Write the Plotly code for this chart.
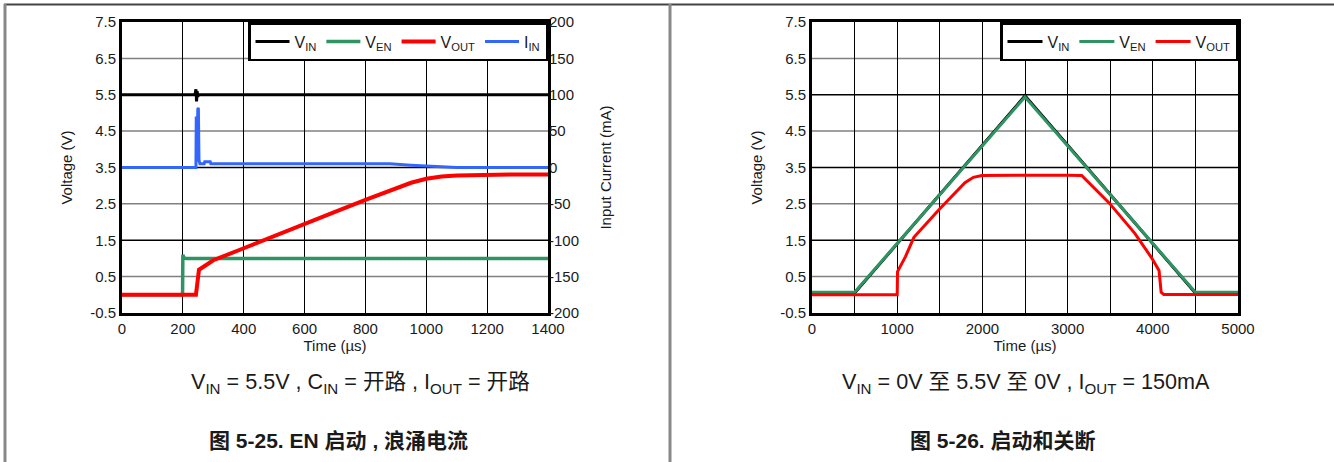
import plotly.graph_objects as go

W, H = 1334, 462

# ---------------- Left chart data (EN start-up, inrush current) ----------------
t_vin_l = [0, 240, 243, 245, 247, 249, 252, 1400]
v_vin_l = [5.5, 5.5, 5.65, 5.32, 5.6, 5.45, 5.5, 5.5]

t_ven_l = [0, 199, 200, 203, 210, 1400]
v_ven_l = [0.0, 0.0, 1.1, 1.02, 1.0, 1.0]

t_vout_l = [0, 243, 253, 300, 400, 500, 600, 700, 800, 900, 950, 1000, 1050, 1100, 1200, 1300, 1400]
v_vout_l = [0.0, 0.0, 0.69, 0.95, 1.28, 1.62, 1.95, 2.28, 2.61, 2.92, 3.08, 3.19, 3.25, 3.28, 3.30, 3.31, 3.31]

t_iin_l = [0, 243, 244, 245, 246, 248, 249, 251, 253, 256, 262, 270, 272, 290, 292, 880, 950, 1000, 1100, 1400]
i_iin_l = [0, 0, 68, 68, 10, 10, 80, 82, 10, 5, 5, 5, 8, 8, 5, 5, 3, 2, 0, 0]

# ---------------- Right chart data (start-up and shutdown) ----------------
t_vin_r = [0, 500, 2500, 4500, 5000]
v_vin_r = [0.05, 0.05, 5.47, 0.05, 0.05]

t_ven_r = [0, 500, 2500, 4500, 5000]
v_ven_r = [0.07, 0.07, 5.44, 0.07, 0.07]

t_vout_r = [0, 1000, 1004, 1097, 1196, 1495, 1795, 1894, 1994, 2500, 3000, 3165, 3490, 3789, 3988, 4073, 4098, 4128, 5000]
v_vout_r = [0.0, 0.0, 0.64, 1.05, 1.58, 2.35, 3.08, 3.23, 3.28, 3.29, 3.29, 3.28, 2.52, 1.69, 1.01, 0.67, 0.07, 0.01, 0.01]

# ---------------- Axis tick labels ----------------
v_ticks = [-0.5, 0.5, 1.5, 2.5, 3.5, 4.5, 5.5, 6.5, 7.5]
v_black_grid = [1.5, 3.5, 5.5]
v_gray_grid = [0.5, 2.5, 4.5, 6.5]
i_ticks = [-200, -150, -100, -50, 0, 50, 100, 150, 200]
x_ticks_l = [0, 200, 400, 600, 800, 1000, 1200, 1400]
x_ticks_r = [0, 500, 1000, 1500, 2000, 2500, 3000, 3500, 4000, 4500, 5000]
x_ticklabels_r = ["0", "", "1000", "", "2000", "", "3000", "", "4000", "", "5000"]

C_VIN = "#000000"
C_VEN = "#2e9462"
C_VOUT = "#ff0000"
C_IIN = "#3366ff"

FONT = "Liberation Sans, Arial, sans-serif"
CJK = "Liberation Sans, Noto Sans CJK SC, sans-serif"
TXT = "#1a1a1a"

fig = go.Figure()

# left traces
fig.add_trace(go.Scatter(x=t_vin_l, y=v_vin_l, name="V<sub>IN</sub>", mode="lines",
                         line=dict(color=C_VIN, width=3), xaxis="x", yaxis="y", legend="legend"))
fig.add_trace(go.Scatter(x=t_ven_l, y=v_ven_l, name="V<sub>EN</sub>", mode="lines",
                         line=dict(color=C_VEN, width=3.5), xaxis="x", yaxis="y", legend="legend"))
fig.add_trace(go.Scatter(x=t_vout_l, y=v_vout_l, name="V<sub>OUT</sub>", mode="lines",
                         line=dict(color=C_VOUT, width=4), xaxis="x", yaxis="y", legend="legend"))
fig.add_trace(go.Scatter(x=t_iin_l, y=i_iin_l, name="I<sub>IN</sub>", mode="lines",
                         line=dict(color=C_IIN, width=3), xaxis="x", yaxis="y2", legend="legend"))

# right traces
fig.add_trace(go.Scatter(x=t_vin_r, y=v_vin_r, name="V<sub>IN</sub>", mode="lines",
                         line=dict(color=C_VIN, width=3), xaxis="x2", yaxis="y3", legend="legend2"))
fig.add_trace(go.Scatter(x=t_ven_r, y=v_ven_r, name="V<sub>EN</sub>", mode="lines",
                         line=dict(color=C_VEN, width=3), xaxis="x2", yaxis="y3", legend="legend2"))
fig.add_trace(go.Scatter(x=t_vout_r, y=v_vout_r, name="V<sub>OUT</sub>", mode="lines",
                         line=dict(color=C_VOUT, width=3), xaxis="x2", yaxis="y3", legend="legend2"))

def px_x(p):
    return p / W

def px_y(p):
    return 1 - p / H

dom_y = [px_y(313), px_y(22)]
dom_xl = [px_x(122), px_x(548)]
dom_xr = [px_x(812), px_x(1238)]

tickfont = dict(family=FONT, size=15, color=TXT)
titlefont = dict(family=FONT, size=15, color=TXT)

def xax(domain, ticks, labels, rng, anchor):
    return dict(domain=domain, anchor=anchor, range=rng, tickmode="array", tickvals=ticks, ticktext=labels,
                showgrid=True, gridcolor="#000000", gridwidth=1.2, zeroline=False,
                showline=True, linecolor="#000000", linewidth=3, mirror=True,
                ticks="", tickfont=tickfont, automargin=False,
                title=dict(text="Time (µs)", font=titlefont, standoff=1))

def yax_v(domain, anchor):
    return dict(domain=domain, anchor=anchor, range=[-0.5, 7.5], tickmode="array",
                tickvals=v_ticks, ticktext=[f"{v:g}" for v in v_ticks],
                showgrid=False, zeroline=False,
                showline=True, linecolor="#000000", linewidth=3, mirror=True,
                ticks="", tickfont=tickfont, automargin=False,
                title=dict(text="Voltage (V)", font=titlefont, standoff=14))

legend_font = dict(family=FONT, size=16, color=TXT)

layout = dict(
    width=W, height=H, margin=dict(l=0, r=0, t=0, b=0, autoexpand=False),
    paper_bgcolor="white", plot_bgcolor="white", showlegend=True,
    xaxis=xax(dom_xl, x_ticks_l, [str(v) for v in x_ticks_l], [0, 1400], "y"),
    xaxis2=xax(dom_xr, x_ticks_r, x_ticklabels_r, [0, 5000], "y3"),
    yaxis=yax_v(dom_y, "x"),
    yaxis2=dict(overlaying="y", side="right", anchor="x", range=[-200, 200], tickmode="array",
                tickvals=i_ticks, ticktext=[str(v) for v in i_ticks], showgrid=False,
                zeroline=False, showline=False, ticks="", tickfont=tickfont, automargin=False,
                title=dict(text="Input Current (mA)", font=titlefont, standoff=22)),
    yaxis3=yax_v(dom_y, "x2"),
    legend=dict(x=px_x(548), xanchor="right", y=px_y(22), yanchor="top", orientation="h",
                bgcolor="white", bordercolor="#000000", borderwidth=2.5,
                font=legend_font, itemwidth=34),
    legend2=dict(x=px_x(1238), xanchor="right", y=px_y(22), yanchor="top", orientation="h",
                 bgcolor="white", bordercolor="#000000", borderwidth=2.5,
                 font=legend_font, itemwidth=35),
)
fig.update_layout(**layout)

# horizontal gridlines: gray at 0.5/2.5/4.5/6.5, black at 1.5/3.5/5.5
for yref, xref in (("y", "x domain"), ("y3", "x2 domain")):
    for gv in v_gray_grid:
        fig.add_shape(type="line", xref=xref, yref=yref, x0=0, x1=1, y0=gv, y1=gv,
                      layer="below", line=dict(color="#808080", width=1.5))
    for gv in v_black_grid:
        fig.add_shape(type="line", xref=xref, yref=yref, x0=0, x1=1, y0=gv, y1=gv,
                      layer="below", line=dict(color="#000000", width=1.5))

# captions
fig.add_annotation(x=px_x(360), y=px_y(383), xref="paper", yref="paper", showarrow=False,
                   xanchor="center", yanchor="middle",
                   text="V<sub>IN</sub> = 5.5V , C<sub>IN</sub> = 开路 , I<sub>OUT</sub> = 开路",
                   font=dict(family=CJK, size=21.6, color=TXT))
fig.add_annotation(x=px_x(1026), y=px_y(383), xref="paper", yref="paper", showarrow=False,
                   xanchor="center", yanchor="middle",
                   text="V<sub>IN</sub> = 0V 至 5.5V 至 0V , I<sub>OUT</sub> = 150mA",
                   font=dict(family=CJK, size=21.6, color=TXT))
fig.add_annotation(x=px_x(338), y=px_y(440), xref="paper", yref="paper", showarrow=False,
                   xanchor="center", yanchor="middle",
                   text="<b>图 5-25. EN 启动 , 浪涌电流</b>",
                   font=dict(family=CJK, size=21, color=TXT))
fig.add_annotation(x=px_x(1003), y=px_y(440), xref="paper", yref="paper", showarrow=False,
                   xanchor="center", yanchor="middle",
                   text="<b>图 5-26. 启动和关断</b>",
                   font=dict(family=CJK, size=21, color=TXT))

# page frame lines
fig.add_shape(type="line", xref="paper", yref="paper", x0=px_x(4), x1=1, y0=px_y(4.5), y1=px_y(4.5),
              line=dict(color="#444444", width=2))
fig.add_shape(type="line", xref="paper", yref="paper", x0=px_x(5), x1=px_x(5), y0=px_y(4), y1=0,
              line=dict(color="#888888", width=3))
fig.add_shape(type="line", xref="paper", yref="paper", x0=px_x(670), x1=px_x(670), y0=px_y(4), y1=0,
              line=dict(color="#888888", width=3))

fig.write_html("out.html")
